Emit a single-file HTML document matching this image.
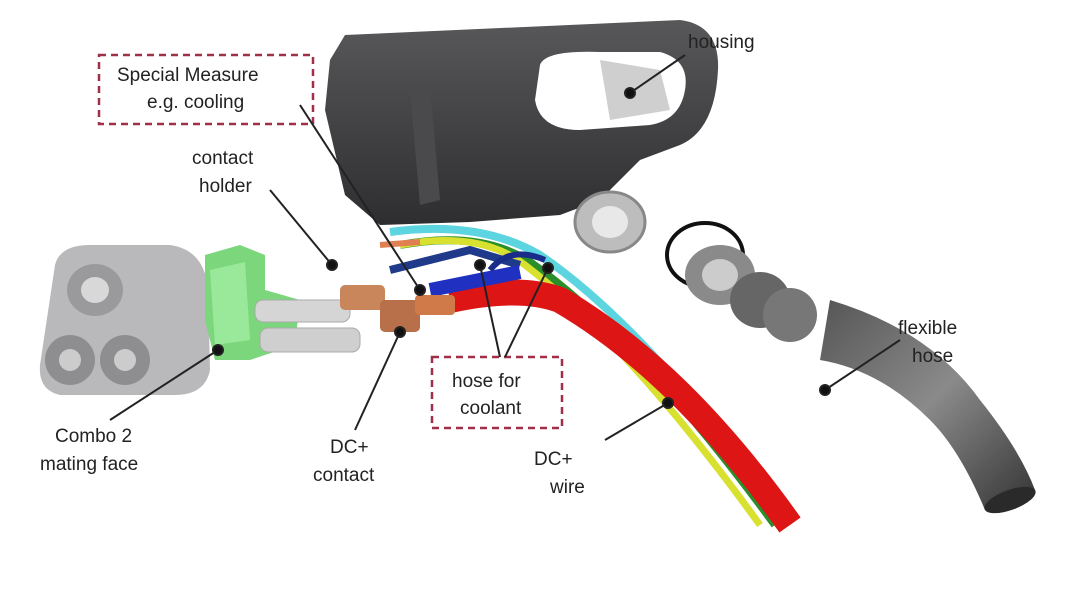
<!DOCTYPE html>
<html><head><meta charset="utf-8"><style>
html,body{margin:0;padding:0;background:#fff;}
svg{display:block;}
text{font-family:"Liberation Sans",sans-serif;font-size:19px;fill:#222;}
</style></head><body>
<svg width="1080" height="589" viewBox="0 0 1080 589" xmlns="http://www.w3.org/2000/svg">
<defs>
<linearGradient id="hg" x1="0" y1="0" x2="0" y2="1"><stop offset="0" stop-color="#58585a"/><stop offset="1" stop-color="#2e2e30"/></linearGradient>
<linearGradient id="fh" x1="0" y1="0" x2="1" y2="1"><stop offset="0" stop-color="#555"/><stop offset=".5" stop-color="#8a8a8a"/><stop offset="1" stop-color="#333"/></linearGradient>
</defs>
<rect width="1080" height="589" fill="#fff"/>
<path d="M330 60 L345 35 L680 20 Q720 25 718 70 Q715 130 680 145 L640 160 L600 200 L560 215 L470 222 L380 225 L345 195 L325 110 Z" fill="url(#hg)"/>
<path d="M540 65 Q545 50 600 52 L660 52 Q690 60 685 90 Q680 120 650 125 L580 130 Q540 130 535 100 Z" fill="#fff"/>
<path d="M600 60 L660 70 L670 110 L610 120 Z" fill="#cfcfcf"/>
<path d="M410 90 L430 85 L440 200 L420 205 Z" fill="#4a4a4c"/>
<ellipse cx="610" cy="222" rx="35" ry="30" fill="#bdbdbd" stroke="#888" stroke-width="3"/>
<ellipse cx="610" cy="222" rx="18" ry="16" fill="#e8e8e8"/>
<ellipse cx="705" cy="255" rx="38" ry="32" fill="none" stroke="#111" stroke-width="4"/>
<ellipse cx="720" cy="275" rx="35" ry="30" fill="#8a8a8a"/>
<ellipse cx="720" cy="275" rx="18" ry="16" fill="#ccc"/>
<ellipse cx="760" cy="300" rx="30" ry="28" fill="#666"/>
<ellipse cx="790" cy="315" rx="27" ry="27" fill="#777"/>
<path d="M830 300 Q930 330 980 400 Q1020 450 1035 490 L985 510 Q960 450 930 420 Q880 370 820 360 Z" fill="url(#fh)"/>
<ellipse cx="1010" cy="500" rx="27" ry="10" transform="rotate(-20 1010 500)" fill="#2a2a2a"/>
<path d="M390 232 Q480 220 540 255 Q650 330 790 525" fill="none" stroke="#5dd5e0" stroke-width="8"/>
<path d="M400 245 Q480 230 530 262 Q640 340 775 525" fill="none" stroke="#2a8f2a" stroke-width="8"/>
<path d="M400 245 Q480 230 525 265 Q630 345 760 525" fill="none" stroke="#d8e030" stroke-width="7"/>
<path d="M450 300 Q520 285 560 300 Q680 370 790 525" fill="none" stroke="#dd1515" stroke-width="26"/>
<path d="M390 270 L470 250 L520 265" fill="none" stroke="#1f3a8a" stroke-width="8"/>
<path d="M430 290 L520 272" fill="none" stroke="#2030c0" stroke-width="14"/>
<path d="M490 270 Q510 245 545 260" fill="none" stroke="#1a2c8a" stroke-width="6"/>
<path d="M380 245 L420 242" stroke="#e08050" stroke-width="6"/>
<path d="M55 265 Q60 245 90 245 L170 245 Q205 250 208 290 L210 370 Q205 395 175 395 L60 395 Q38 390 40 365 Z" fill="#b9b9bb"/>
<ellipse cx="95" cy="290" rx="28" ry="26" fill="#9a9a9c"/><ellipse cx="95" cy="290" rx="14" ry="13" fill="#d8d8d8"/>
<ellipse cx="70" cy="360" rx="25" ry="25" fill="#8e8e90"/><ellipse cx="125" cy="360" rx="25" ry="25" fill="#8e8e90"/>
<ellipse cx="70" cy="360" rx="11" ry="11" fill="#ccc"/><ellipse cx="125" cy="360" rx="11" ry="11" fill="#ccc"/>
<path d="M205 255 L240 245 L265 255 L265 290 L300 300 L295 345 L250 360 L215 360 L205 320 Z" fill="#7cd67c"/>
<path d="M210 270 L245 262 L250 340 L215 345 Z" fill="#9ae89a"/>
<rect x="255" y="300" width="95" height="22" rx="8" fill="#d5d5d5" stroke="#aaa"/>
<rect x="260" y="328" width="100" height="24" rx="8" fill="#cfcfcf" stroke="#aaa"/>
<rect x="340" y="285" width="45" height="25" rx="5" fill="#c8865a"/>
<rect x="380" y="300" width="40" height="32" rx="5" fill="#b8704a"/>
<rect x="415" y="295" width="40" height="20" rx="4" fill="#d07a4a"/>
<rect x="99" y="55" width="214" height="69" fill="none" stroke="#a03048" stroke-width="2.5" stroke-dasharray="7,5"/>
<rect x="432" y="357" width="130" height="71" fill="none" stroke="#a03048" stroke-width="2.5" stroke-dasharray="7,5"/>
<g stroke="#222" stroke-width="2" fill="#111">
<line x1="685" y1="55" x2="630" y2="93"/><circle cx="630" cy="93" r="5"/>
<line x1="300" y1="105" x2="420" y2="290"/><circle cx="420" cy="290" r="5"/>
<line x1="270" y1="190" x2="332" y2="265"/><circle cx="332" cy="265" r="5"/>
<line x1="110" y1="420" x2="218" y2="350"/><circle cx="218" cy="350" r="5"/>
<line x1="355" y1="430" x2="400" y2="332"/><circle cx="400" cy="332" r="5"/>
<line x1="500" y1="357" x2="480" y2="265"/><circle cx="480" cy="265" r="5"/>
<line x1="505" y1="357" x2="548" y2="268"/><circle cx="548" cy="268" r="5"/>
<line x1="605" y1="440" x2="668" y2="403"/><circle cx="668" cy="403" r="5"/>
<line x1="900" y1="340" x2="825" y2="390"/><circle cx="825" cy="390" r="5"/>
</g>
<text x="688" y="48">housing</text>
<text x="117" y="81">Special Measure</text>
<text x="147" y="108">e.g. cooling</text>
<text x="192" y="164">contact</text>
<text x="199" y="192">holder</text>
<text x="55" y="442">Combo 2</text>
<text x="40" y="470">mating face</text>
<text x="330" y="453">DC+</text>
<text x="313" y="481">contact</text>
<text x="452" y="387">hose for</text>
<text x="460" y="414">coolant</text>
<text x="534" y="465">DC+</text>
<text x="550" y="493">wire</text>
<text x="898" y="334">flexible</text>
<text x="912" y="362">hose</text>
</svg>
</body></html>
